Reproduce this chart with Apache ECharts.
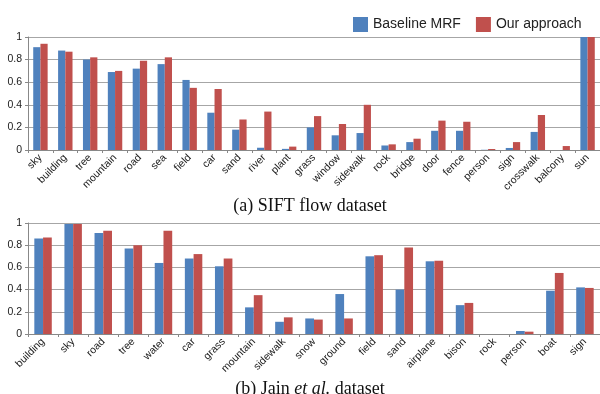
<!DOCTYPE html>
<html>
<head>
<meta charset="utf-8">
<script src="https://cdn.jsdelivr.net/npm/echarts@6/dist/echarts.min.js"></script>
<style>
  html, body { margin: 0; padding: 0; background: #fff; }
  #chart { width: 600px; height: 394px; }
</style>
</head>
<body>
<div id="chart"></div>
<script>
// (a) SIFT flow
var siftCats = ["sky", "building", "tree", "mountain", "road", "sea", "field", "car", "sand", "river", "plant",
  "grass", "window", "sidewalk", "rock", "bridge", "door", "fence", "person", "sign", "crosswalk", "balcony", "sun"];
var siftBaseline = [0.91, 0.88, 0.80, 0.69, 0.72, 0.76, 0.62, 0.33, 0.18, 0.02, 0.01,
  0.2, 0.13, 0.15, 0.04, 0.07, 0.17, 0.17, 0.002, 0.018, 0.16, 0, 1.0];
var siftOurs = [0.94, 0.87, 0.82, 0.70, 0.79, 0.82, 0.55, 0.54, 0.27, 0.34, 0.03,
  0.30, 0.23, 0.40, 0.05, 0.10, 0.26, 0.25, 0.009, 0.07, 0.31, 0.035, 1.0];

// (b) Jain et al.
var jainCats = ["building", "sky", "road", "tree", "water", "car", "grass", "mountain", "sidewalk", "snow",
  "ground", "field", "sand", "airplane", "bison", "rock", "person", "boat", "sign"];
var jainBaseline = [0.86, 0.99, 0.91, 0.77, 0.64, 0.68, 0.61, 0.24, 0.11, 0.14,
  0.36, 0.70, 0.40, 0.655, 0.26, 0, 0.027, 0.39, 0.42];
var jainOurs = [0.87, 0.99, 0.93, 0.80, 0.93, 0.72, 0.68, 0.35, 0.15, 0.13,
  0.14, 0.71, 0.78, 0.66, 0.28, 0, 0.021, 0.55, 0.415];

var yTicks = { min: 0, max: 1, interval: 0.2 };

var chart = echarts.init(document.getElementById("chart"), null, { renderer: "canvas" });

function xAxisOf(idx, cats) {
  return {
    type: "category",
    gridIndex: idx,
    data: cats,
    axisLine: { lineStyle: { color: "#888" } },
    axisTick: { show: true, length: 3, lineStyle: { color: "#888" } },
    axisLabel: {
      interval: 0,
      rotate: 45,
      margin: 6,
      color: "#222",
      fontSize: 10.5,
      fontFamily: "Liberation Sans",
    },
  };
}

function yAxisOf(idx) {
  return {
    type: "value",
    gridIndex: idx,
    min: yTicks.min,
    max: yTicks.max,
    interval: yTicks.interval,
    axisLine: { show: true, lineStyle: { color: "#888" } },
    axisTick: { show: true, length: 3, lineStyle: { color: "#888" } },
    axisLabel: { color: "#222", fontSize: 10.5, fontFamily: "Liberation Sans", margin: 6 },
    splitLine: { lineStyle: { color: "#a6a6a6", width: 1 } },
  };
}

function bars(name, idx, data, color) {
  return {
    name: name,
    type: "bar",
    xAxisIndex: idx,
    yAxisIndex: idx,
    data: data,
    barGap: "0%",
    barCategoryGap: "42%",
    itemStyle: { color: color },
    animation: false,
  };
}

chart.setOption({
  animation: false,
  legend: {
    data: ["Baseline MRF", "Our approach"],
    left: 348,
    top: 12,
    itemWidth: 15,
    itemHeight: 15,
    itemGap: 15,
    icon: "rect",
    textStyle: { fontSize: 14, color: "#222", fontFamily: "Liberation Sans" },
  },
  title: [
    {
      text: "(a) SIFT flow dataset",
      left: 305,
      textAlign: "center",
      top: 192,
      textStyle: { fontFamily: "Liberation Serif", fontSize: 18, fontWeight: "normal", color: "#111" },
    },
    {
      text: "{n|(b) Jain }{i|et al.}{n| dataset}",
      left: 305,
      textAlign: "center",
      top: 375,
      textStyle: {
        fontWeight: "normal",
        rich: {
          n: { fontFamily: "Liberation Serif", fontSize: 18, fontWeight: "normal", color: "#111" },
          i: { fontFamily: "Liberation Serif", fontSize: 18, fontWeight: "normal", fontStyle: "italic", color: "#111" },
        },
      },
    },
  ],
  grid: [
    { left: 28, top: 37, width: 572, height: 113 },
    { left: 28, top: 223, width: 572, height: 111 },
  ],
  xAxis: [xAxisOf(0, siftCats), xAxisOf(1, jainCats)],
  yAxis: [yAxisOf(0), yAxisOf(1)],
  series: [
    bars("Baseline MRF", 0, siftBaseline, "#4f81bd"),
    bars("Our approach", 0, siftOurs, "#c0504d"),
    bars("Baseline MRF", 1, jainBaseline, "#4f81bd"),
    bars("Our approach", 1, jainOurs, "#c0504d"),
  ],
});
</script>
</body>
</html>
